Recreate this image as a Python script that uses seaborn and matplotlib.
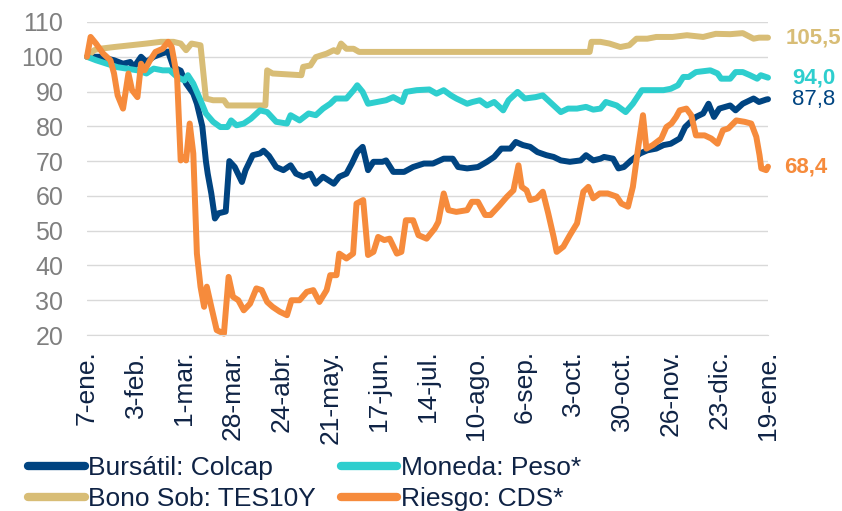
import pandas as pd
import matplotlib.pyplot as plt
import seaborn as sns
from matplotlib.lines import Line2D

# data: days since 7-ene-2020 and index value (base 100)
inicio = pd.Timestamp("2020-01-07")

colcap_dias = [0, 7, 15, 20, 24, 26, 30, 33, 37, 42, 45, 48, 52, 55, 59, 61, 64, 66, 67, 69, 71, 73, 77,
               79, 82, 86, 88, 92, 96, 98, 101, 105, 109, 113, 116, 120, 124, 127, 131, 137, 140, 144,
               147, 150, 153, 156, 159, 164, 166, 170, 176, 181, 187, 192, 198, 203, 206, 211, 217, 222,
               226, 230, 235, 238, 242, 246, 250, 255, 259, 263, 268, 274, 277, 281, 285, 287, 292, 295,
               298, 302, 307, 311, 316, 320, 324, 329, 332, 335, 338, 342, 345, 348, 351, 357, 360, 364,
               370, 373, 377, 378]
colcap_val = [100, 100, 99, 98, 98.5, 97, 100, 98.5, 100, 101, 101.5, 97, 96, 92.3, 89.4, 86.5, 80, 70,
              66.4, 60.7, 53.5, 55, 55.5, 70, 68.3, 64, 67.4, 71.7, 72.2, 73, 71.5, 68.3, 67.4, 68.8,
              66.4, 65.5, 66.4, 63.5, 65.5, 63.5, 65.5, 66.4, 69.3, 72.6, 74.1, 67.4, 69.8, 69.8, 70.2,
              66.9, 66.9, 68.3, 69.3, 69.3, 70.7, 70.7, 68.3, 67.9, 68.3, 69.8, 71.2, 73.6, 73.6, 75.5,
              74.6, 74.1, 72.6, 71.7, 71.2, 70.2, 69.8, 70.2, 71.7, 70.2, 70.7, 71.2, 70.7, 67.9, 68.3,
              70.2, 72.2, 73.1, 73.6, 74.6, 75, 76.5, 79.8, 81.3, 82.7, 83.7, 86.5, 82.7, 85.1, 86, 84.6,
              86.5, 88, 87, 87.7, 87.8]

peso_dias = [0, 5, 11, 17, 22, 28, 33, 37, 42, 46, 50, 54, 56, 59, 63, 66, 70, 74, 78, 80, 83, 87, 91,
             96, 100, 105, 111, 113, 118, 123, 127, 131, 135, 138, 144, 148, 150, 153, 156, 161, 166,
             170, 175, 177, 183, 190, 194, 198, 202, 205, 211, 214, 218, 222, 226, 231, 234, 239, 243,
             249, 253, 258, 263, 267, 272, 277, 281, 285, 288, 294, 299, 303, 308, 314, 320, 324, 328,
             331, 334, 338, 346, 350, 352, 357, 360, 364, 368, 372, 374, 378]
peso_val = [100, 99, 98, 97, 96.6, 96.1, 95.2, 96.6, 96.1, 96.1, 94.2, 93.2, 94.7, 92.3, 87.5, 83.7,
            81.3, 79.8, 79.8, 81.7, 80.3, 80.8, 82.2, 84.6, 84.1, 81.3, 80.8, 83.2, 81.7, 83.7, 83.2,
            85.1, 86.5, 88, 88, 90.4, 91.8, 89.9, 86.5, 87, 87.5, 88.4, 87, 89.9, 90.4, 90.6, 89.4,
            90.4, 88.9, 88, 86.5, 87, 87.5, 86, 87, 84.6, 87.5, 89.9, 88, 88.4, 88.9, 86.5, 84.1, 85.1,
            85.1, 85.6, 84.8, 85.1, 87, 86, 84.1, 86.5, 90.4, 90.4, 90.4, 90.8, 91.8, 94.2, 94.2, 95.6,
            96.1, 95.2, 93.7, 93.7, 95.6, 95.6, 94.7, 93.7, 94.7, 94.0]

tes_dias = [0, 4, 7, 15, 24, 33, 41, 48, 52, 55, 58, 63, 65, 66, 70, 76, 78, 99, 100, 103, 119, 120,
            124, 127, 133, 137, 139, 141, 144, 148, 151, 279, 280, 285, 290, 296, 301, 305, 311, 316,
            325, 333, 342, 349, 357, 364, 370, 373, 378]
tes_val = [100, 101.9, 102.3, 102.8, 103.3, 103.8, 104.3, 104.3, 103.8, 101.9, 103.8, 103.3, 93.2, 88,
           87.5, 87.5, 86, 86, 96.1, 95.2, 94.7, 97.1, 97.5, 99.9, 100.9, 101.9, 101.4, 103.8, 102.3,
           102.3, 101.4, 101.4, 104.3, 104.3, 103.8, 102.8, 103.3, 105.2, 105.2, 105.7, 105.7, 106.2,
           105.7, 106.6, 106.5, 106.8, 105.2, 105.5, 105.5]

cds_dias = [0, 2, 5, 9, 13, 15, 17, 20, 23, 25, 28, 30, 32, 35, 38, 42, 45, 47, 50, 52, 54, 55, 57, 59,
            61, 63, 65, 66.5, 69, 72, 76, 78.6, 81, 84, 87, 90.5, 94, 97, 100, 103, 107, 111, 113.5,
            118, 122, 125.6, 129, 133, 135, 138.5, 140, 144, 147.7, 149.6, 153.3, 156, 159, 161.6, 165,
            168, 172, 174.5, 177, 181, 184, 188.5, 193, 195, 198, 200.6, 205, 211, 213.6, 217, 221, 224,
            229, 233, 236.7, 239.5, 241.3, 244, 246, 249.6, 253, 256, 259, 260.7, 264.4, 268, 272,
            275.5, 278.3, 281, 284.6, 289, 294, 296.6, 300.3, 303, 306, 308.6, 310.5, 314, 318.8, 321.6,
            324.4, 327, 329, 332.7, 335.4, 338, 342.8, 346.5, 350, 353, 356, 360.4, 365, 368.7, 371.5,
            373.3, 374.3, 377, 378]
cds_val = [100, 105.7, 103.8, 100.9, 99, 95.2, 88.9, 85.1, 95.2, 90.4, 88.4, 98, 96.1, 99, 101.4, 102.3,
           104.3, 102.8, 94.2, 70.2, 71.2, 70.2, 80.8, 72.2, 43.4, 33.9, 28.1, 33.9, 28.1, 21.4, 20.4,
           36.7, 31, 30, 27.1, 29, 33.4, 32.9, 29.5, 28.1, 26.7, 25.7, 30, 30, 32.4, 32.9, 29.5, 32.9,
           37.2, 37.2, 43.4, 42, 43.4, 57.8, 58.8, 43, 43.9, 48.2, 47.3, 47.7, 43.4, 43.9, 53, 53, 48.7,
           47.7, 50.6, 52.5, 60.7, 55.9, 55.4, 55.9, 58.3, 58.3, 54.5, 54.5, 57.3, 59.7, 61.6, 68.8,
           62.6, 61.6, 58.8, 59.3, 61.2, 55, 48.2, 43.9, 45.4, 48.7, 52.1, 61.2, 62.6, 59.3, 60.7, 60.7,
           59.8, 57.8, 56.9, 62.6, 74.1, 83.2, 73.6, 74.6, 76.5, 79.8, 80.8, 82.7, 84.6, 85.1, 83.2,
           77.4, 77.4, 76.5, 75, 78.9, 79.4, 81.7, 81.3, 80.8, 77, 71.7, 67.9, 67.4, 68.4]

nombres = ["Bursátil: Colcap", "Bono Sob: TES10Y", "Moneda: Peso*", "Riesgo: CDS*"]
colores = ["#004481", "#D8BD76", "#2ECECE", "#F68B3C"]
meses = ["ene", "feb", "mar", "abr", "may", "jun", "jul", "ago", "sep", "oct", "nov", "dic"]

series = [(nombres[0], colcap_dias, colcap_val), (nombres[1], tes_dias, tes_val),
          (nombres[2], peso_dias, peso_val), (nombres[3], cds_dias, cds_val)]
frames = []
for nombre, dias, vals in series:
    frames.append(pd.DataFrame({"fecha": inicio + pd.to_timedelta(dias, unit="D"),
                                "valor": vals, "serie": nombre}))
df = pd.concat(frames, ignore_index=True)

sns.set_style("white")
plt.rcParams["font.family"] = ["Liberation Sans", "DejaVu Sans"]
texto = "#0f2345"

fig = plt.figure(figsize=(8.42, 5.11), dpi=100)
ax = fig.add_axes([87 / 842, 1 - 335 / 511, 681 / 842, 313 / 511])

sns.lineplot(data=df, x="fecha", y="valor", hue="serie", hue_order=nombres,
             palette=dict(zip(nombres, colores)), linewidth=4.3, estimator=None,
             sort=True, legend=False, ax=ax)
for ln in ax.lines:
    ln.set_solid_joinstyle("round")
    ln.set_solid_capstyle("round")
    ln.set_clip_on(False)

# axes
ticks = pd.date_range(inicio, periods=15, freq="27D")
ax.set_xticks(ticks)
ax.set_xticklabels([f"{d.day}-{meses[d.month - 1]}." for d in ticks], rotation=90)
ax.set_xlim(ticks[0], ticks[-1])
ax.set_ylim(20, 110)
ax.set_yticks(range(20, 111, 10))
ax.set_xlabel("")
ax.set_ylabel("")
ax.yaxis.grid(True, color="#d9d9d9", linewidth=1)
ax.set_axisbelow(True)
for s in ["left", "top", "right"]:
    ax.spines[s].set_visible(False)
ax.spines["bottom"].set_color("#d9d9d9")
ax.tick_params(axis="y", length=0, pad=17, labelsize=18, labelcolor="#7f7f7f")
ax.tick_params(axis="x", length=6, width=1, color="#d9d9d9", pad=5, labelsize=19, labelcolor=texto)

# end labels
etiquetas = [(colcap_val[-1], colores[0], "normal", 1.035),
             (tes_val[-1], colores[1], "bold", 1.026),
             (peso_val[-1], colores[2], "bold", 1.035),
             (cds_val[-1], colores[3], "bold", 1.024)]
for v, c, w, xf in etiquetas:
    ax.annotate(f"{v:.1f}".replace(".", ","), xy=(xf, v), xycoords=("axes fraction", "data"),
                ha="left", va="center", fontsize=16, color=c, fontweight=w, annotation_clip=False)

handles = [Line2D([0], [0], color=c, lw=6, solid_capstyle="round") for c in colores]
leg = fig.legend(handles, nombres, ncol=2, loc="upper left", bbox_to_anchor=(28 / 842, 1 - 456 / 511),
                 bbox_transform=fig.transFigure, frameon=False, fontsize=19, handlelength=2.15,
                 handletextpad=0.12, columnspacing=0.95, labelspacing=0.28, borderpad=0, borderaxespad=0)
for t in leg.get_texts():
    t.set_color(texto)

fig.savefig("out.png", dpi=100)
